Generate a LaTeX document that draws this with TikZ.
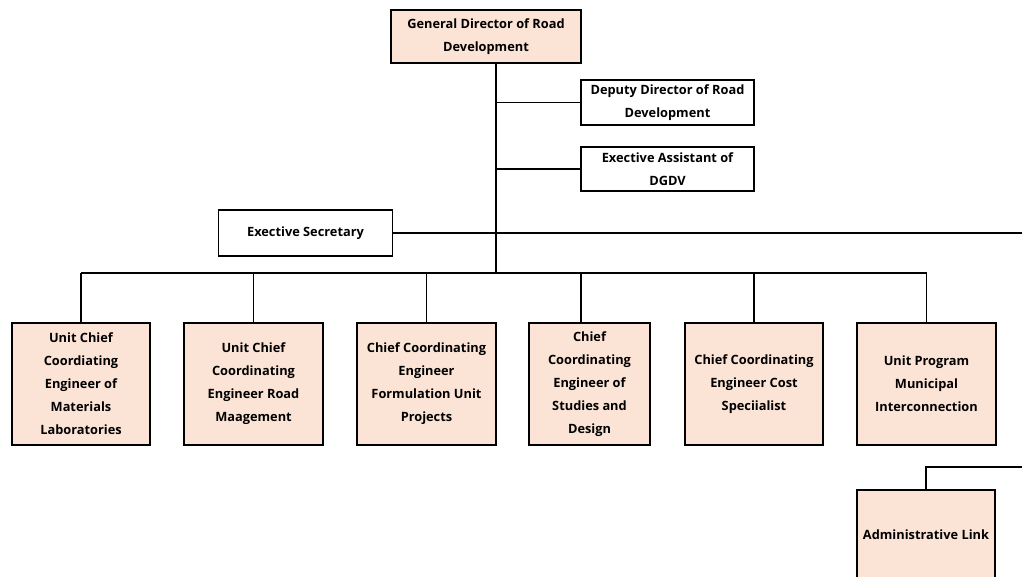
\documentclass[tikz,border=0pt]{standalone}
\usepackage{fontspec}
\setmainfont{Open Sans}
\definecolor{peach}{HTML}{FBE4D6}
\tikzset{
  box/.style={draw=black, line width=0.8pt, inner sep=0pt, align=center,
    font=\bfseries\fontsize{9.6pt}{17.2pt}\selectfont},
  pbox/.style={box, fill=peach},
  wbox/.style={box, fill=white},
  conn/.style={draw=black, line width=0.8pt}
}
\begin{document}
\begin{tikzpicture}[x=0.75pt,y=-0.75pt]
\useasboundingbox (0,0) rectangle (1022,577);
% top
\node[pbox, minimum width=190*0.75pt, minimum height=53*0.75pt] (gd) at (486,36.5) {General Director of Road\\Development};
\node[wbox, minimum width=173*0.75pt, minimum height=45*0.75pt] (dep) at (667.5,102.5) {Deputy Director of Road\\Development};
\node[wbox, minimum width=173*0.75pt, minimum height=44*0.75pt] (ass) at (667.5,169) {Exective Assistant of\\DGDV};
\node[wbox, minimum width=174*0.75pt, minimum height=46*0.75pt] (sec) at (305.5,233) {Exective Secretary};
% units
\node[pbox, minimum width=138*0.75pt, minimum height=122*0.75pt] (u1) at (81,384) {Unit Chief\\Coordiating\\Engineer of\\Materials\\Laboratories};
\node[pbox, minimum width=139*0.75pt, minimum height=122*0.75pt] (u2) at (253.5,384) {Unit Chief\\Coordinating\\Engineer Road\\Maagement};
\node[pbox, minimum width=139*0.75pt, minimum height=122*0.75pt] (u3) at (426.5,384) {Chief Coordinating\\Engineer\\Formulation Unit\\Projects};
\node[pbox, minimum width=121*0.75pt, minimum height=122*0.75pt] (u4) at (589.5,384) {Chief\\Coordinating\\Engineer of\\Studies and\\Design};
\node[pbox, minimum width=138*0.75pt, minimum height=122*0.75pt] (u5) at (754,384) {Chief Coordinating\\Engineer Cost\\Speciialist};
\node[pbox, minimum width=139*0.75pt, minimum height=122*0.75pt] (u6) at (926.5,384) {Unit Program\\Municipal\\Interconnection};
\node[pbox, minimum width=138*0.75pt, minimum height=90*0.75pt] (adm) at (926,535) {Administrative Link};
% coordinates
\coordinate (trunk) at (496,273);
\coordinate (secend) at (1022,233);
\coordinate (admend) at (1022,467);
\coordinate (admcorner) at (926,467);
% connectors
\draw[conn] (gd.south -| trunk) -- (trunk);
\draw[conn] (dep.west) -- (dep.west -| trunk);
\draw[conn] (ass.west) -- (ass.west -| trunk);
\draw[conn] (sec.east) -- (secend);
\draw[conn] (u1.north |- trunk) -- (u6.north |- trunk);
\draw[conn] (u1.north) -- (u1.north |- trunk);
\draw[conn] (u2.north) -- (u2.north |- trunk);
\draw[conn] (u3.north) -- (u3.north |- trunk);
\draw[conn] (u4.north -| 581,0) -- (581,273);
\draw[conn] (u5.north) -- (u5.north |- trunk);
\draw[conn] (u6.north) -- (u6.north |- trunk);
\draw[conn] (adm.north) -- (admcorner) -- (admend);
\end{tikzpicture}
\end{document}
